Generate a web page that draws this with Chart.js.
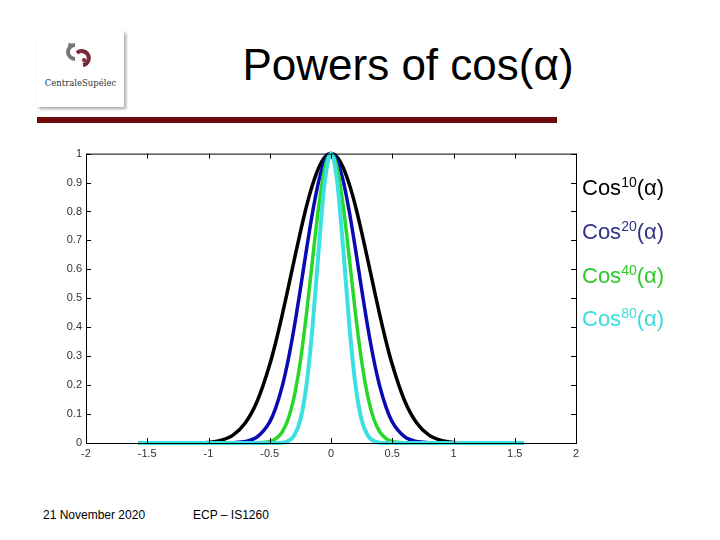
<!DOCTYPE html>
<html>
<head>
<meta charset="utf-8">
<script src="https://cdn.jsdelivr.net/npm/chart.js@4"></script>
<style>
    body { margin: 0; width: 720px; height: 540px; background: #fff; position: relative; overflow: hidden; font-family: "Liberation Sans", Arial, sans-serif; }
    .logo { position: absolute; left: 37px; top: 31px; width: 87px; height: 76px; background: #fff; box-shadow: 2px 2px 3px rgba(0,0,0,0.35); }
    .logo span { position: absolute; left: 0; width: 87px; top: 47px; text-align: center; font-family: "DejaVu Serif", "Liberation Serif", serif; font-size: 8.5px; color: #333; }
    .title { position: absolute; left: 160px; width: 496px; top: 40px; text-align: center; font-size: 44px; color: #000; }
    .bar { position: absolute; left: 37px; top: 117px; width: 520px; height: 6px; background: #6e0a0a; }
    #wrap { position: absolute; left: 40px; top: 143px; width: 546px; height: 320px; }
    .legend { position: absolute; left: 582px; font-size: 22px; line-height: 24px; }
    .legend sup { font-size: 14px; vertical-align: 8px; line-height: 0; }
    .foot { position: absolute; top: 508px; font-size: 12px; color: #000; }
</style>
</head>
<body>
<div class="logo">
    <svg width="87" height="50" style="position:absolute;left:0;top:0">
        <path d="M38 14 A7 7 0 1 0 38 28" fill="none" stroke="#77747a" stroke-width="4"/>
        <circle cx="33" cy="14" r="2" fill="#77747a"/>
        <path d="M40 22 A7 7 0 1 1 46 34" fill="none" stroke="#7a2a3a" stroke-width="4"/>
        <circle cx="47" cy="29" r="2" fill="#7a2a3a"/>
    </svg>
    <span>CentraleSupélec</span>
</div>
<div class="title">Powers of cos(α)</div>
<div class="bar"></div>
<div id="wrap"><canvas id="chart"></canvas></div>
<div class="legend" style="top:176px;color:#000">Cos<sup>10</sup>(α)</div>
<div class="legend" style="top:220px;color:#333388">Cos<sup>20</sup>(α)</div>
<div class="legend" style="top:264px;color:#2ccc2c">Cos<sup>40</sup>(α)</div>
<div class="legend" style="top:307px;color:#3adcdc">Cos<sup>80</sup>(α)</div>
<div class="foot" style="left:43px">21 November 2020</div>
<div class="foot" style="left:193px">ECP – IS1260</div>

<script>
    // angle samples (radians)
    const alpha = [-1.57, -1.4, -1.2, -1.1, -1.0, -0.9, -0.8, -0.7, -0.6, -0.5, -0.45, -0.4, -0.35, -0.3, -0.25, -0.2, -0.15, -0.1, -0.05, 0,
                   0.05, 0.1, 0.15, 0.2, 0.25, 0.3, 0.35, 0.4, 0.45, 0.5, 0.6, 0.7, 0.8, 0.9, 1.0, 1.1, 1.2, 1.4, 1.57];

    const cos10 = [0, 0, 0, 0.0004, 0.002, 0.009, 0.027, 0.069, 0.147, 0.271, 0.350, 0.439, 0.535, 0.633, 0.729, 0.818, 0.893, 0.951, 0.988, 1,
                   0.988, 0.951, 0.893, 0.818, 0.729, 0.633, 0.535, 0.439, 0.350, 0.271, 0.147, 0.069, 0.027, 0.009, 0.002, 0.0004, 0, 0, 0];
    const cos20 = [0, 0, 0, 0, 0, 0, 0.001, 0.005, 0.022, 0.073, 0.123, 0.193, 0.286, 0.401, 0.532, 0.669, 0.798, 0.905, 0.975, 1,
                   0.975, 0.905, 0.798, 0.669, 0.532, 0.401, 0.286, 0.193, 0.123, 0.073, 0.022, 0.005, 0.001, 0, 0, 0, 0, 0, 0];
    const cos40 = [0, 0, 0, 0, 0, 0, 0, 0, 0.0005, 0.005, 0.015, 0.037, 0.082, 0.161, 0.283, 0.447, 0.637, 0.818, 0.951, 1,
                   0.951, 0.818, 0.637, 0.447, 0.283, 0.161, 0.082, 0.037, 0.015, 0.005, 0.0005, 0, 0, 0, 0, 0, 0, 0, 0];
    const cos80 = [0, 0, 0, 0, 0, 0, 0, 0, 0, 0, 0.0002, 0.001, 0.007, 0.026, 0.080, 0.200, 0.405, 0.670, 0.905, 1,
                   0.905, 0.670, 0.405, 0.200, 0.080, 0.026, 0.007, 0.001, 0.0002, 0, 0, 0, 0, 0, 0, 0, 0, 0, 0];

    const xTicks = [-2, -1.5, -1, -0.5, 0, 0.5, 1, 1.5, 2];
    const yTicks = [0, 0.1, 0.2, 0.3, 0.4, 0.5, 0.6, 0.7, 0.8, 0.9, 1];

    const toPoints = ys => alpha.map((a, i) => ({ x: a, y: ys[i] }));

    // box frame + inward ticks on all four sides
    const framePlugin = {
        id: "frame",
        afterDatasetsDraw(chart) {
            const { ctx, chartArea: a, scales } = chart;
            ctx.save();
            ctx.strokeStyle = "#000";
            ctx.lineWidth = 1;
            ctx.strokeRect(a.left + 0.5, a.top + 0.5, a.right - a.left, a.bottom - a.top);
            ctx.beginPath();
            xTicks.forEach(v => {
                const px = Math.round(scales.x.getPixelForValue(v)) + 0.5;
                ctx.moveTo(px, a.bottom); ctx.lineTo(px, a.bottom - 5);
                ctx.moveTo(px, a.top); ctx.lineTo(px, a.top + 5);
            });
            yTicks.forEach(v => {
                const py = Math.round(scales.y.getPixelForValue(v)) + 0.5;
                ctx.moveTo(a.left, py); ctx.lineTo(a.left + 5, py);
                ctx.moveTo(a.right, py); ctx.lineTo(a.right - 5, py);
            });
            ctx.stroke();
            ctx.restore();
        }
    };

    const series = [
        { label: "Cos10", data: cos10, color: "#000000", width: 3.5, order: 4 },
        { label: "Cos20", data: cos20, color: "#0a0ab4", width: 3.5, order: 3 },
        { label: "Cos40", data: cos40, color: "#28d828", width: 3.5, order: 2 },
        { label: "Cos80", data: cos80, color: "#3ce0e0", width: 4, order: 1 }
    ];

    const tickFont = { family: "Liberation Sans", size: 11 };

    new Chart(document.getElementById("chart"), {
        type: "line",
        data: {
            datasets: series.map(s => ({
                label: s.label,
                data: toPoints(s.data),
                borderColor: s.color,
                borderWidth: s.width,
                pointRadius: 0,
                fill: false,
                cubicInterpolationMode: "monotone",
                order: s.order,
                clip: 3
            }))
        },
        options: {
            responsive: true,
            maintainAspectRatio: false,
            animation: false,
            layout: { padding: { left: 0, right: 10, top: 10, bottom: 0 } },
            plugins: { legend: { display: false }, tooltip: { enabled: false } },
            scales: {
                x: {
                    type: "linear",
                    min: -2, max: 2,
                    afterBuildTicks: scale => { scale.ticks = xTicks.map(v => ({ value: v })); },
                    afterFit: scale => { scale.height = 20; },
                    grid: { display: false, drawTicks: false },
                    border: { display: false },
                    ticks: { padding: 4, color: "#333", font: tickFont, maxRotation: 0, autoSkip: false, callback: v => String(v) }
                },
                y: {
                    min: 0, max: 1,
                    afterBuildTicks: scale => { scale.ticks = yTicks.map(v => ({ value: v })); },
                    afterFit: scale => { scale.width = 46; },
                    grid: { display: false, drawTicks: false },
                    border: { display: false },
                    ticks: { padding: 4, color: "#333", font: tickFont, autoSkip: false, callback: v => String(v) }
                }
            }
        },
        plugins: [framePlugin]
    });
</script>
</body>
</html>
